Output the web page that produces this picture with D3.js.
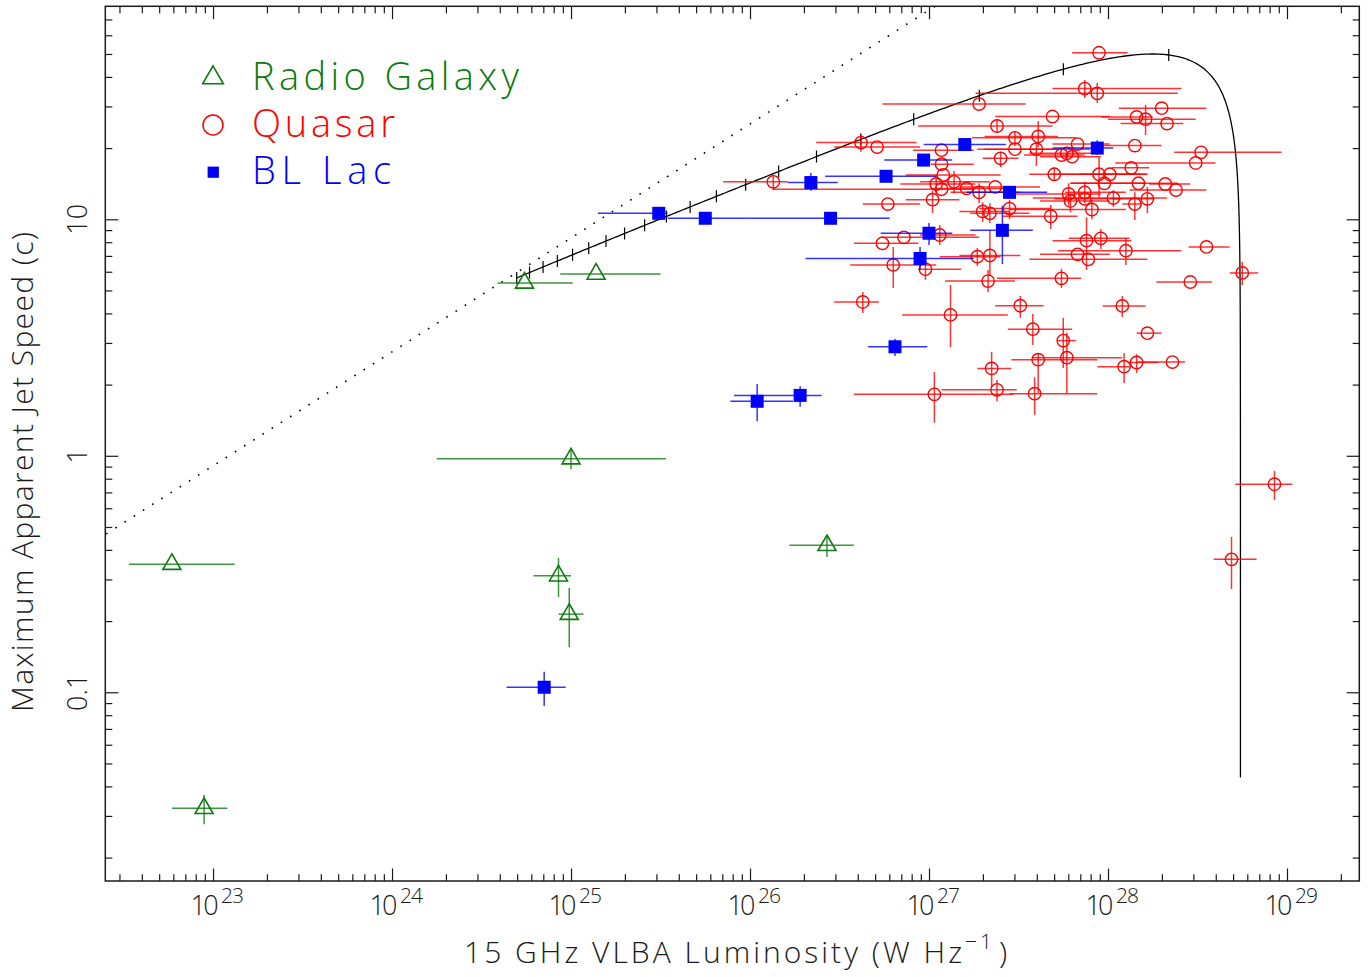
<!DOCTYPE html>
<html>
<head>
<meta charset="utf-8">
<script src="https://cdn.jsdelivr.net/npm/d3@7"></script>
<style>
  html, body { margin: 0; padding: 0; background: #fff; }
  svg { display: block; }
  text { font-family: "Open Sans", "DejaVu Sans", sans-serif; font-weight: 300; }
</style>
</head>
<body>
<svg id="chart" width="1372" height="977"></svg>
<script>
// Each row: [log10 L (W/Hz), log10 L low, log10 L high, speed (c), speed low, speed high]
// speed low/high are null where no vertical error bar is drawn.
const radioGalaxies = [
  [22.77, 22.53, 23.12, 0.348, null, null],
  [22.95, 22.77, 23.08, 0.0323, 0.0277, 0.0368],
  [24.74, 24.59, 25.01, 5.38, null, null],
  [25.14, 24.94, 25.50, 5.87, null, null],
  [25.00, 24.25, 25.53, 0.972, 0.877, 1.058],
  [24.93, 24.79, 25.00, 0.311, 0.253, 0.370],
  [24.99, 24.93, 25.07, 0.214, 0.155, 0.276],
  [26.43, 26.22, 26.58, 0.418, 0.373, 0.462]
];

const quasars = [
  [27.95, 27.80, 28.11, 50.6, null, null],
  [27.87, 27.69, 28.41, 35.7, 32.6, 38.8],
  [27.94, 27.26, 28.39, 34.1, 31.0, 37.7],
  [27.28, 26.74, 27.54, 30.7, null, null],
  [28.30, 28.06, 28.55, 29.5, null, null],
  [28.16, 27.96, 28.25, 27.1, null, null],
  [28.21, 28.00, 28.49, 26.5, 22.7, 30.4],
  [28.33, 28.07, 28.42, 25.4, null, null],
  [27.69, 27.37, 28.01, 27.2, null, null],
  [27.38, 26.94, 27.69, 24.8, 23.2, 26.3],
  [27.48, 27.24, 27.82, 22.1, 20.4, 23.6],
  [27.61, 27.31, 27.72, 22.4, 20.2, 26.0],
  [27.60, 27.31, 27.90, 19.8, 16.8, 21.2],
  [27.48, 27.27, 27.72, 19.8, null, null],
  [27.83, 27.69, 28.01, 20.8, null, null],
  [27.74, 27.53, 27.87, 18.7, null, null],
  [27.77, 27.56, 27.93, 19.0, null, null],
  [27.80, 27.62, 27.96, 18.4, null, null],
  [28.15, 27.96, 28.30, 20.5, null, null],
  [28.52, 28.37, 28.97, 19.2, null, null],
  [28.49, 28.04, 28.60, 17.3, null, null],
  [28.13, 28.02, 28.23, 16.5, null, null],
  [27.95, 27.68, 28.22, 15.5, 12.4, 18.3],
  [28.01, 27.84, 28.18, 15.5, null, null],
  [27.98, 27.79, 28.21, 14.2, null, null],
  [27.70, 27.56, 28.22, 15.5, 14.5, 16.6],
  [28.17, 27.79, 28.39, 14.2, null, null],
  [28.32, 28.23, 28.46, 14.1, null, null],
  [28.38, 28.12, 28.55, 13.3, null, null],
  [27.78, 27.45, 27.96, 12.8, 11.4, 14.2],
  [27.87, 27.76, 28.10, 13.0, 11.7, 14.4],
  [27.79, 27.62, 28.01, 11.95, 10.7, 12.8],
  [27.87, 27.70, 28.07, 12.2, null, null],
  [28.03, 27.58, 28.33, 12.3, 11.3, 13.3],
  [28.15, 28.08, 28.19, 11.6, 9.93, 13.0],
  [28.22, 28.03, 28.26, 12.2, 10.6, 13.7],
  [27.91, 27.45, 28.10, 11.0, 10.0, 12.1],
  [27.68, 27.41, 27.83, 10.3, 9.10, 11.5],
  [27.40, 27.30, 27.50, 18.1, 16.6, 19.3],
  [27.07, 26.91, 27.25, 19.6, null, null],
  [27.07, 27.01, 27.25, 17.1, null, null],
  [27.08, 26.87, 27.40, 15.4, null, null],
  [27.04, 26.84, 27.26, 14.1, 12.9, 15.4],
  [27.07, 26.13, 27.25, 13.4, null, null],
  [27.14, 26.95, 27.34, 14.4, 12.9, 16.0],
  [27.21, 27.01, 27.45, 13.5, null, null],
  [27.28, 27.12, 27.51, 13.0, 11.7, 14.2],
  [27.37, 27.17, 27.62, 13.7, null, null],
  [27.02, 26.87, 27.17, 12.1, 10.6, 13.2],
  [26.77, 26.63, 26.95, 11.6, null, null],
  [27.30, 27.17, 27.45, 10.8, 9.74, 11.8],
  [27.34, 27.23, 27.56, 10.6, 9.65, 11.7],
  [27.45, 27.28, 27.68, 11.1, 10.0, 12.1],
  [26.74, 26.58, 26.94, 7.91, null, null],
  [26.86, 26.73, 27.28, 8.39, null, null],
  [27.06, 26.95, 27.26, 8.58, 7.79, 9.46],
  [26.80, 26.56, 27.04, 6.41, 5.12, 7.64],
  [26.98, 26.94, 27.18, 6.15, 5.54, 6.73],
  [27.27, 27.06, 27.40, 6.95, 6.35, 7.56],
  [27.34, 27.17, 27.51, 7.03, 5.76, 9.01],
  [27.33, 27.09, 27.48, 5.48, 4.93, 6.10],
  [27.74, 27.38, 27.85, 5.63, 5.12, 6.17],
  [26.63, 26.47, 26.72, 4.47, 4.02, 4.93],
  [27.12, 26.85, 27.44, 3.94, 2.88, 5.28],
  [27.51, 27.37, 27.64, 4.31, 3.83, 4.74],
  [28.08, 27.97, 28.21, 4.30, 3.86, 4.74],
  [27.58, 27.44, 27.80, 3.43, 2.94, 3.98],
  [27.75, 27.72, 27.82, 3.07, 2.35, 3.83],
  [28.22, 28.16, 28.30, 3.30, null, null],
  [27.61, 27.46, 27.94, 2.55, 1.84, 2.72],
  [27.77, 27.58, 28.08, 2.60, 1.84, 3.31],
  [27.35, 27.27, 27.46, 2.34, 1.95, 2.75],
  [28.09, 27.94, 28.12, 2.38, 2.03, 2.72],
  [28.16, 28.11, 28.28, 2.48, 2.24, 2.69],
  [28.36, 28.16, 28.43, 2.49, null, null],
  [27.03, 26.58, 27.47, 1.82, 1.38, 2.26],
  [27.38, 27.07, 27.49, 1.90, 1.70, 2.09],
  [27.59, 27.45, 27.94, 1.83, 1.49, 2.15],
  [28.93, 28.71, 29.03, 0.758, 0.650, 0.862],
  [28.69, 28.59, 28.83, 0.365, 0.273, 0.454],
  [28.75, 28.68, 28.84, 5.93, 5.28, 6.60],
  [28.55, 28.45, 28.68, 7.64, null, null],
  [28.46, 28.27, 28.58, 5.43, null, null],
  [28.10, 27.72, 28.41, 7.37, 6.41, 8.33],
  [27.96, 27.78, 28.12, 8.31, 7.49, 9.10],
  [27.88, 27.69, 28.13, 8.12, 6.10, 10.2],
  [27.83, 27.62, 28.01, 7.11, null, null],
  [27.89, 27.56, 28.22, 6.77, null, null],
  [26.13, 25.85, 26.21, 14.4, 13.3, 15.5],
  [26.62, 26.37, 26.93, 21.1, 19.3, 22.9],
  [26.71, 26.47, 26.95, 20.2, null, null]
];

const blLacs = [
  [24.85, 24.64, 24.97, 0.105, 0.0875, 0.122],
  [26.04, 25.89, 26.24, 1.70, 1.40, 2.01],
  [26.28, 25.91, 26.40, 1.80, 1.61, 1.97],
  [26.81, 26.66, 26.99, 2.89, 2.64, 3.12],
  [26.95, 26.31, 27.25, 6.83, 6.10, 7.64],
  [27.00, 26.73, 27.13, 8.73, 7.79, 9.65],
  [27.41, 27.23, 27.58, 8.98, 6.47, 11.4],
  [27.45, 27.21, 27.66, 13.0, 12.3, 13.7],
  [26.97, 26.75, 27.13, 17.8, null, null],
  [26.76, 26.42, 27.04, 15.2, null, null],
  [27.20, 26.97, 27.43, 20.7, null, null],
  [26.34, 26.21, 26.49, 14.3, 13.2, 15.7],
  [27.94, 27.69, 28.03, 20.0, 18.7, 21.6],
  [25.49, 25.15, 25.54, 10.6, null, null],
  [25.75, 25.54, 25.98, 10.1, null, null],
  [26.45, 25.98, 26.78, 10.1, null, null]
];

// Tick labels
const xTickExponents = [23, 24, 25, 26, 27, 28, 29];
const yTickLabels = ["0.1", "1", "10"];

// Dotted limit line: two end points [log10 L, speed (c)]
const dottedLimit = [[22.30, 0.417], [27.30, 107]];

// Aspect curve of a jet with fixed Lorentz factor, luminosity boosted as delta^p
const lorentzFactor = 50;
const dopplerIndex = 1.63;
const logIntrinsicLum = 25.48;
const curveAngleRange = [0.0005, 20];            // viewing angle, degrees
const curveTickAngles = [1, 2, 3, 4, 5, 6, 7, 8, 9, 10, 11, 12, 13, 14, 15, 16, 17, 18, 19, 20];

const legendEntries = [
  { label: "Radio Galaxy", kind: "rg" },
  { label: "Quasar", kind: "q" },
  { label: "BL Lac", kind: "bl" }
];

const colors = { rg: "#0c7a0c", q: "#ff0000", bl: "#0000ff", ink: "#1a1a1a" };

const svg = d3.select("#chart");
const plot = { left: 105.3, right: 1359.3, top: 6.3, bottom: 881 };

const x = d3.scaleLog().domain([10 ** 22.398, 10 ** 29.404]).range([plot.left, plot.right]);
const y = d3.scaleLog().domain([10 ** -1.798, 10 ** 1.9006]).range([plot.bottom, plot.top]);

svg.append("rect").attr("width", 1372).attr("height", 977).attr("fill", "#fff");

svg.append("defs").append("clipPath").attr("id", "plotClip")
  .append("rect")
  .attr("x", plot.left).attr("y", plot.top)
  .attr("width", plot.right - plot.left).attr("height", plot.bottom - plot.top);

// ---- axes: major and minor ticks on all four sides, pointing inward ----
function logTicks(scale) {
  const [a, b] = scale.domain();
  const major = [], minor = [];
  for (let k = Math.floor(Math.log10(a)); k <= Math.ceil(Math.log10(b)); k++) {
    for (let m = 1; m <= 9; m++) {
      const v = m * 10 ** k;
      if (v < a || v > b) continue;
      (m === 1 ? major : minor).push(v);
    }
  }
  return { major, minor };
}
const xt = logTicks(x), yt = logTicks(y);
const axisG = svg.append("g").attr("class", "axes");

function addAxis(gen, transform, values, size) {
  const g = axisG.append("g").attr("transform", transform)
    .call(gen.tickValues(values).tickSize(size).tickFormat(""));
  g.select(".domain").remove();
  g.selectAll(".tick line").attr("stroke", colors.ink).attr("stroke-width", 1.2);
}
addAxis(d3.axisBottom(x), `translate(0,${plot.bottom})`, xt.major, -12.5);
addAxis(d3.axisBottom(x), `translate(0,${plot.bottom})`, xt.minor, -6.8);
addAxis(d3.axisTop(x), `translate(0,${plot.top})`, xt.major, -12.8);
addAxis(d3.axisTop(x), `translate(0,${plot.top})`, xt.minor, -7);
addAxis(d3.axisLeft(y), `translate(${plot.left},0)`, yt.major, -13);
addAxis(d3.axisLeft(y), `translate(${plot.left},0)`, yt.minor, -7);
addAxis(d3.axisRight(y), `translate(${plot.right},0)`, yt.major, -12.6);
addAxis(d3.axisRight(y), `translate(${plot.right},0)`, yt.minor, -6.6);

axisG.append("rect")
  .attr("x", plot.left).attr("y", plot.top)
  .attr("width", plot.right - plot.left).attr("height", plot.bottom - plot.top)
  .attr("fill", "none").attr("stroke", colors.ink).attr("stroke-width", 1.5);

// x tick labels: 10 with exponent
const xLab = axisG.append("g");
xTickExponents.forEach(e => {
  const px = x(10 ** e);
  xLab.append("text").attr("x", px + 5.5).attr("y", 915).attr("text-anchor", "end")
    .attr("font-size", 27).attr("fill", colors.ink)
    .attr("textLength", 28).attr("lengthAdjust", "spacing").text("10");
  xLab.append("text").attr("x", px + 8).attr("y", 903.3).attr("text-anchor", "start")
    .attr("font-size", 21).attr("fill", colors.ink)
    .attr("textLength", 23).attr("lengthAdjust", "spacing").text(String(e));
});

// y tick labels, rotated
yTickLabels.forEach(s => {
  const py = y(+s);
  axisG.append("text")
    .attr("transform", `translate(87,${py}) rotate(-90)`)
    .attr("text-anchor", "middle").attr("font-size", 27).attr("fill", colors.ink).text(s);
});

// axis titles
axisG.append("text").attr("x", 464).attr("y", 963.3)
  .attr("font-size", 30).attr("fill", colors.ink)
  .attr("textLength", 498).attr("lengthAdjust", "spacing")
  .text("15 GHz VLBA Luminosity (W Hz");
axisG.append("text").attr("x", 965).attr("y", 948.5)
  .attr("font-size", 21).attr("fill", colors.ink)
  .attr("textLength", 27).attr("lengthAdjust", "spacing").text("\u22121");
axisG.append("text").attr("x", 999).attr("y", 963.3)
  .attr("font-size", 30).attr("fill", colors.ink).text(")");

axisG.append("text")
  .attr("transform", "translate(33.3,472) rotate(-90)")
  .attr("text-anchor", "middle").attr("font-size", 30).attr("fill", colors.ink)
  .attr("textLength", 480).attr("lengthAdjust", "spacing")
  .text("Maximum Apparent Jet Speed (c)");

// ---- plot contents ----
const plotG = svg.append("g").attr("clip-path", "url(#plotClip)");

// dotted limit line
plotG.append("path")
  .attr("d", d3.line().x(p => x(10 ** p[0])).y(p => y(p[1]))(dottedLimit))
  .attr("fill", "none").attr("stroke", "#000").attr("stroke-width", 1.6)
  .attr("stroke-dasharray", "1.6 9.3");

// aspect curve
function aspectPoint(thetaDeg) {
  const t = thetaDeg * Math.PI / 180;
  const beta = Math.sqrt(1 - 1 / (lorentzFactor * lorentzFactor));
  const den = 1 - beta * Math.cos(t);
  const delta = 1 / (lorentzFactor * den);
  return {
    L: 10 ** (logIntrinsicLum + dopplerIndex * Math.log10(delta)),
    speed: beta * Math.sin(t) / den
  };
}
const nCurve = 800;
const [tMin, tMax] = curveAngleRange;
const curvePts = d3.range(nCurve + 1)
  .map(i => aspectPoint(tMin * Math.pow(tMax / tMin, i / nCurve)));
plotG.append("path")
  .attr("d", d3.line().x(p => x(p.L)).y(p => y(p.speed))(curvePts))
  .attr("fill", "none").attr("stroke", "#000").attr("stroke-width", 1.3);
plotG.append("g").selectAll("line").data(curveTickAngles.map(aspectPoint)).join("line")
  .attr("x1", p => x(p.L)).attr("x2", p => x(p.L))
  .attr("y1", p => y(p.speed) - 6).attr("y2", p => y(p.speed) + 6)
  .attr("stroke", "#000").attr("stroke-width", 1.2);

// data series with error bars
const rec = a => ({ logL: a[0], lo: a[1], hi: a[2], v: a[3], vLo: a[4], vHi: a[5] });

function drawSeries(rows, color, drawMarker) {
  const d = rows.map(rec);
  const g = plotG.append("g");
  g.selectAll("line.xerr").data(d).join("line").attr("class", "xerr")
    .attr("x1", r => x(10 ** r.lo)).attr("x2", r => x(10 ** r.hi))
    .attr("y1", r => y(r.v)).attr("y2", r => y(r.v))
    .attr("stroke", color).attr("stroke-width", 1.5).attr("stroke-opacity", 0.8);
  g.selectAll("line.yerr").data(d.filter(r => r.vLo != null)).join("line").attr("class", "yerr")
    .attr("x1", r => x(10 ** r.logL)).attr("x2", r => x(10 ** r.logL))
    .attr("y1", r => y(r.vLo)).attr("y2", r => y(r.vHi))
    .attr("stroke", color).attr("stroke-width", 1.5).attr("stroke-opacity", 0.8);
  drawMarker(g, d);
}

drawSeries(quasars, colors.q, (g, d) => {
  g.selectAll("circle").data(d).join("circle")
    .attr("cx", r => x(10 ** r.logL)).attr("cy", r => y(r.v)).attr("r", 6.2)
    .attr("fill", "none").attr("stroke", colors.q).attr("stroke-width", 1.4);
});
drawSeries(radioGalaxies, colors.rg, (g, d) => {
  g.selectAll("path.mk").data(d).join("path").attr("class", "mk")
    .attr("transform", r => `translate(${x(10 ** r.logL)},${y(r.v)})`)
    .attr("d", d3.symbol(d3.symbolTriangle, 140)())
    .attr("fill", "none").attr("stroke", colors.rg).attr("stroke-width", 1.6);
});
drawSeries(blLacs, colors.bl, (g, d) => {
  g.selectAll("rect").data(d).join("rect")
    .attr("x", r => x(10 ** r.logL) - 6.5).attr("y", r => y(r.v) - 6.5)
    .attr("width", 13).attr("height", 13).attr("fill", colors.bl);
});

// ---- legend ----
const legend = svg.append("g");
const legendRows = [
  { cy: 77.8, base: 89.5, len: 267 },
  { cy: 125, base: 136.6, len: 143 },
  { cy: 172.2, base: 184.3, len: 139 }
];
legendEntries.forEach((e, i) => {
  const r = legendRows[i];
  const c = colors[e.kind];
  if (e.kind === "rg") {
    legend.append("path").attr("transform", `translate(213,${r.cy})`)
      .attr("d", d3.symbol(d3.symbolTriangle, 185)())
      .attr("fill", "none").attr("stroke", c).attr("stroke-width", 1.6);
  } else if (e.kind === "q") {
    legend.append("circle").attr("cx", 213).attr("cy", r.cy).attr("r", 10)
      .attr("fill", "none").attr("stroke", c).attr("stroke-width", 1.5);
  } else {
    legend.append("rect").attr("x", 207.6).attr("y", r.cy - 5.6)
      .attr("width", 11.3).attr("height", 11.2).attr("fill", c);
  }
  legend.append("text").attr("x", 252).attr("y", r.base)
    .attr("font-size", 38).attr("fill", c)
    .attr("textLength", r.len).attr("lengthAdjust", "spacing")
    .text(e.label);
});
</script>
</body>
</html>
